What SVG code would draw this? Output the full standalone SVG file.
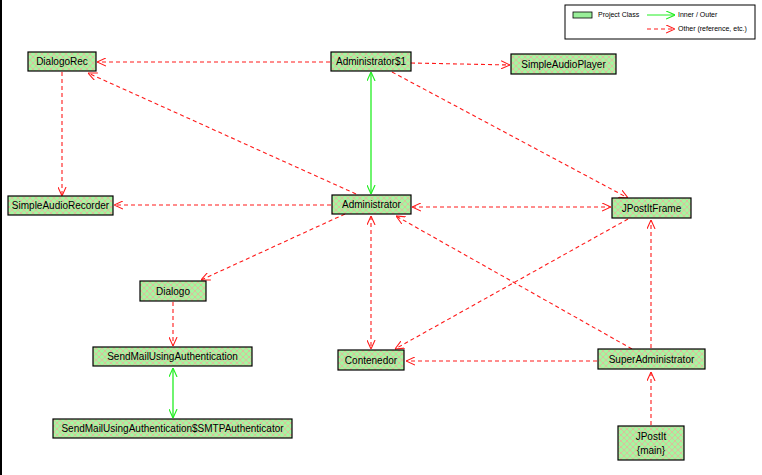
<svg xmlns="http://www.w3.org/2000/svg" width="762" height="475" viewBox="0 0 762 475">
<style>
.node rect{fill:url(#hatch);stroke:#000;stroke-width:1.2}
.node text{font-family:"Liberation Sans",Arial,sans-serif;font-size:10px;fill:#000;text-anchor:middle}
.dep{stroke:#ff1a1a;stroke-width:1.1;stroke-dasharray:4 3;fill:none}
.inner{stroke:#22ee22;stroke-width:1.3;fill:none}
.lg{font-family:"Liberation Sans",Arial,sans-serif;font-size:7px;fill:#000}
</style>
<defs>
<pattern id="hatch" width="6" height="6" patternUnits="userSpaceOnUse">
<rect width="6" height="6" fill="#a6f5a0"/>
<path d="M0,0 L6,6 M6,0 L0,6" stroke="#ff9a9a" stroke-width="0.6"/>
</pattern>
<marker id="ar" viewBox="0 0 10 10" refX="10" refY="5" markerWidth="9" markerHeight="9" orient="auto-start-reverse" markerUnits="userSpaceOnUse">
<path d="M0,0.5 L10,5 L0,9.5" fill="none" stroke="#ff1a1a" stroke-width="1.2"/>
</marker>
<marker id="ag" viewBox="0 0 10 10" refX="10" refY="5" markerWidth="9" markerHeight="9" orient="auto-start-reverse" markerUnits="userSpaceOnUse">
<path d="M0,0.5 L10,5 L0,9.5" fill="none" stroke="#22ee22" stroke-width="1.3"/>
</marker>
</defs>
<rect x="0" y="0" width="762" height="475" fill="#fff"/>
<rect x="0" y="0" width="2" height="475" fill="#000"/>

<g id="legend">
<rect x="565" y="5" width="190" height="34" fill="#fff" stroke="#000" stroke-width="1"/>
<rect x="573" y="12" width="19" height="6" fill="#99ee99" stroke="#000" stroke-width="0.8"/>
<text class="lg" x="598" y="17">Project Class</text>
<line x1="647" y1="15" x2="675" y2="15" stroke="#22ee22" stroke-width="1" marker-end="url(#ag)"/>
<text class="lg" x="678" y="17">Inner / Outer</text>
<line x1="647" y1="29" x2="675" y2="29" class="dep" marker-end="url(#ar)"/>
<text class="lg" x="678" y="31">Other (reference, etc.)</text>
</g>

<g id="connectors">
<line class="dep" x1="330" y1="62" x2="97" y2="62" marker-end="url(#ar)"/>
<line class="dep" x1="411" y1="63" x2="510" y2="65" marker-end="url(#ar)"/>
<line class="inner" x1="371" y1="72" x2="371" y2="194" marker-start="url(#ag)" marker-end="url(#ag)"/>
<line class="dep" x1="392" y1="72" x2="628" y2="198" marker-end="url(#ar)"/>
<line class="dep" x1="356" y1="194" x2="88" y2="73" marker-end="url(#ar)"/>
<line class="dep" x1="62" y1="72" x2="62" y2="196" marker-end="url(#ar)"/>
<line class="dep" x1="331" y1="205" x2="114" y2="205" marker-end="url(#ar)"/>
<line class="dep" x1="412" y1="207" x2="611" y2="207" marker-start="url(#ar)" marker-end="url(#ar)"/>
<line class="dep" x1="345" y1="214" x2="201" y2="280" marker-end="url(#ar)"/>
<line class="dep" x1="371" y1="216" x2="371" y2="349" marker-start="url(#ar)" marker-end="url(#ar)"/>
<line class="dep" x1="628" y1="219" x2="395" y2="349" marker-end="url(#ar)"/>
<line class="dep" x1="632" y1="349" x2="396" y2="216" marker-end="url(#ar)"/>
<line class="dep" x1="597" y1="361" x2="406" y2="361" marker-end="url(#ar)"/>
<line class="dep" x1="651" y1="348" x2="651" y2="220" marker-end="url(#ar)"/>
<line class="dep" x1="651" y1="425" x2="651" y2="372" marker-end="url(#ar)"/>
<line class="dep" x1="173" y1="302" x2="173" y2="346" marker-end="url(#ar)"/>
<line class="inner" x1="173" y1="368" x2="173" y2="418" marker-start="url(#ag)" marker-end="url(#ag)"/>
</g>

<g id="DialogoRec" class="node"><rect x="28" y="52" width="68" height="19"/><text x="62" y="65">DialogoRec</text></g>
<g id="Administrator1" class="node"><rect x="331" y="52" width="80" height="19"/><text x="371" y="65">Administrator$1</text></g>
<g id="SimpleAudioPlayer" class="node"><rect x="511" y="54" width="105" height="20"/><text x="563.5" y="68">SimpleAudioPlayer</text></g>
<g id="SimpleAudioRecorder" class="node"><rect x="8" y="196" width="105" height="19"/><text x="60.5" y="209">SimpleAudioRecorder</text></g>
<g id="Administrator" class="node"><rect x="332" y="195" width="79" height="19"/><text x="371.5" y="208">Administrator</text></g>
<g id="JPostItFrame" class="node"><rect x="612" y="198" width="79" height="20"/><text x="651.5" y="212">JPostItFrame</text></g>
<g id="Dialogo" class="node"><rect x="140" y="281" width="66" height="20"/><text x="173" y="295">Dialogo</text></g>
<g id="SendMailUsingAuthentication" class="node"><rect x="93" y="347" width="159" height="19"/><text x="172.5" y="360">SendMailUsingAuthentication</text></g>
<g id="SMTPAuthenticator" class="node"><rect x="53" y="419" width="239" height="19"/><text x="172.5" y="432">SendMailUsingAuthentication$SMTPAuthenticator</text></g>
<g id="Contenedor" class="node"><rect x="338" y="350" width="66" height="20"/><text x="371" y="364">Contenedor</text></g>
<g id="SuperAdministrator" class="node"><rect x="598" y="349" width="107" height="20"/><text x="651.5" y="363">SuperAdministrator</text></g>
<g id="JPostIt" class="node"><rect x="618" y="426" width="66" height="34"/><text x="651" y="440">JPostIt</text><text x="651" y="454">{main}</text></g>
</svg>
